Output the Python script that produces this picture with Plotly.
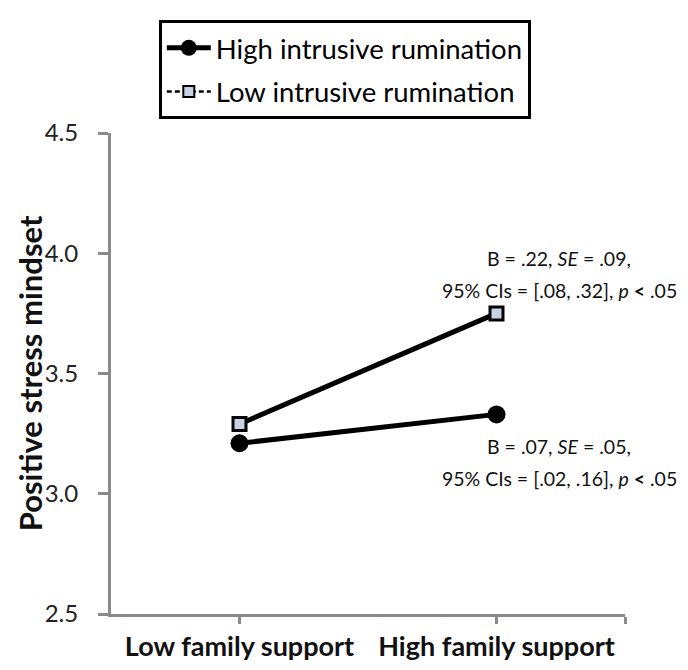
import plotly.graph_objects as go

# ---- data ----
categories = ["Low family support", "High family support"]
high_rumination = [3.21, 3.33]
low_rumination = [3.29, 3.75]
series_names = ["High intrusive rumination", "Low intrusive rumination"]
y_ticks = [2.5, 3.0, 3.5, 4.0, 4.5]
y_title = "Positive stress mindset"
annot_high_slope = ["B = .22, <i>SE</i> = .09,", "95% CIs = [.08, .32], <i>p</i> <b>&lt;</b> .05"]
annot_low_slope = ["B = .07, <i>SE</i> = .05,", "95% CIs = [.02, .16], <i>p</i> <b>&lt;</b> .05"]

FONT = "Lato"
AXIS_GRAY = "#8a8a8a"
SQ_FILL = "#c9d1e6"

x = list(range(len(categories)))

fig = go.Figure()

# plotted lines (both solid in the plot)
fig.add_trace(go.Scatter(
    x=x, y=high_rumination, mode="lines+markers", showlegend=False,
    line=dict(color="black", width=5),
    marker=dict(symbol="circle", size=18, color="black"),
))
fig.add_trace(go.Scatter(
    x=x, y=low_rumination, mode="lines+markers", showlegend=False,
    line=dict(color="black", width=5),
    marker=dict(symbol="square", size=13, color=SQ_FILL, line=dict(color="black", width=3)),
))

# legend entries (legend shows dashed style for the low group)
fig.add_trace(go.Scatter(
    x=[None], y=[None], mode="lines+markers", name=series_names[0], legendgroup="a",
    line=dict(color="black", width=5),
    marker=dict(symbol="circle", size=16, color="black"),
))
fig.add_trace(go.Scatter(
    x=[None], y=[None], mode="lines+markers", name=series_names[1], legendgroup="b",
    line=dict(color="black", width=2.5, dash="5px,3px"),
    marker=dict(symbol="square", size=11, color=SQ_FILL, line=dict(color="black", width=2)),
))

# slope annotations
line_gap = 0.134
for lines, yc in ((annot_high_slope, 3.913), (annot_low_slope, 3.13)):
    for i, t in enumerate(lines):
        fig.add_annotation(
            x=1.245, y=yc + line_gap / 2 - i * line_gap, xref="x", yref="y",
            text=t, showarrow=False, xanchor="center", yanchor="middle",
            font=dict(family=FONT, size=19.5, color="#111111"),
        )

# y-axis title as rotated text
fig.add_annotation(
    x=-0.158, y=0.5, xref="paper", yref="paper", text=f"<b>{y_title}</b>",
    textangle=-90, showarrow=False, xanchor="center", yanchor="middle",
    font=dict(family=FONT, size=31, color="#111111"),
)

fig.update_layout(
    width=688, height=670,
    margin=dict(l=103, r=71, t=115, b=64),
    plot_bgcolor="white", paper_bgcolor="white",
    font=dict(family=FONT, color="#111111"),
    legend=dict(
        x=0.093, xanchor="left", y=1.234, yanchor="top",
        bordercolor="black", borderwidth=3, bgcolor="white",
        font=dict(family=FONT, size=27.5, color="black"),
        tracegroupgap=5, itemwidth=44,
    ),
)

fig.update_xaxes(
    range=[-0.5, 1.5], automargin=False,
    tickvals=x + [1.5], ticktext=categories + [""],
    showline=True, linecolor=AXIS_GRAY, linewidth=3,
    ticks="outside", ticklen=7, tickwidth=3, tickcolor=AXIS_GRAY,
    showgrid=False, zeroline=False,
    tickfont=dict(family=FONT, size=27, color="#111111", weight="bold"),
)
fig.update_yaxes(
    range=[2.5, 4.5], automargin=False,
    tickvals=y_ticks, tickformat=".1f",
    showline=True, linecolor=AXIS_GRAY, linewidth=3,
    ticks="outside", ticklen=10, tickwidth=3, tickcolor=AXIS_GRAY,
    ticklabelstandoff=15,
    showgrid=False, zeroline=False,
    tickfont=dict(family=FONT, size=24, color="#222222"),
)

fig.write_html("out.html")
